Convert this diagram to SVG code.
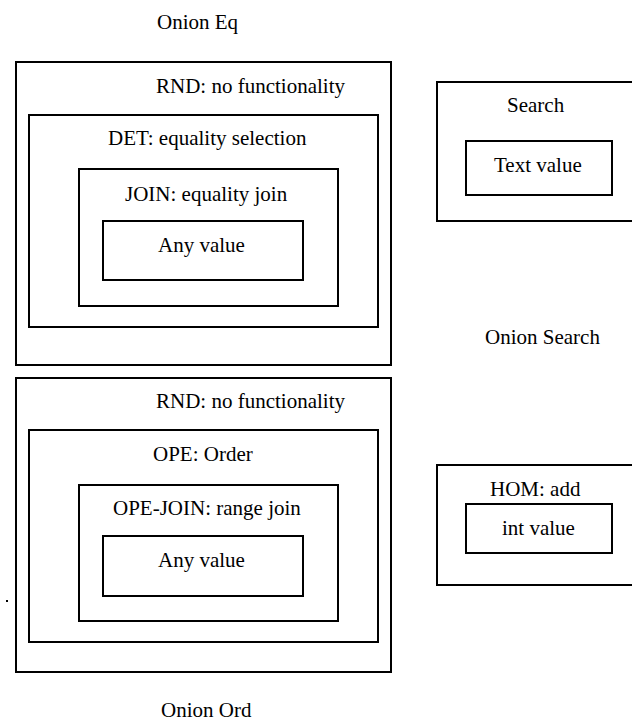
<svg xmlns="http://www.w3.org/2000/svg" width="632" height="723" viewBox="0 0 632 723">
<style>
.b{fill:none;stroke:#000;stroke-width:2}
</style>
<rect width="632" height="723" fill="#fff"/>
<g font-family="'Liberation Serif', Tinos, 'Times New Roman', 'DejaVu Serif', serif" font-size="21" fill="#000">
<g id="onion-eq">
<text x="157" y="29">Onion Eq</text>
<g id="eq-rnd"><rect class="b" x="16" y="62" width="375" height="303"/><text x="156" y="93">RND: no functionality</text></g>
<g id="eq-det"><rect class="b" x="29" y="115" width="349" height="212"/><text x="108" y="145">DET: equality selection</text></g>
<g id="eq-join"><rect class="b" x="79" y="169" width="259" height="137"/><text x="125" y="201">JOIN: equality join</text></g>
<g id="eq-any"><rect class="b" x="103" y="221" width="200" height="59"/><text x="158" y="252">Any value</text></g>
</g>
<g id="onion-ord">
<g id="ord-rnd"><rect class="b" x="16" y="378" width="375" height="294"/><text x="156" y="408">RND: no functionality</text></g>
<g id="ord-ope"><rect class="b" x="29" y="430" width="349" height="212"/><text x="153" y="461">OPE: Order</text></g>
<g id="ord-opejoin"><rect class="b" x="79" y="485" width="259" height="136"/><text x="113" y="515">OPE-JOIN: range join</text></g>
<g id="ord-any"><rect class="b" x="103" y="536" width="200" height="60"/><text x="158" y="567">Any value</text></g>
<text x="161" y="717">Onion Ord</text>
</g>
<g id="onion-search">
<g id="search"><rect class="b" x="437" y="82" width="203" height="139"/><text x="507" y="112">Search</text></g>
<g id="text-value"><rect class="b" x="466" y="141" width="146" height="54"/><text x="494" y="172">Text value</text></g>
<text x="485" y="344">Onion Search</text>
</g>
<g id="onion-add">
<g id="hom"><rect class="b" x="437" y="465" width="203" height="120"/><text x="490" y="496">HOM: add</text></g>
<g id="int-value"><rect class="b" x="466" y="504" width="146" height="49"/><text x="502" y="535">int value</text></g>
</g>
</g>
<g id="connectors"><rect x="6" y="600" width="2" height="2" fill="#000"/></g>
</svg>
